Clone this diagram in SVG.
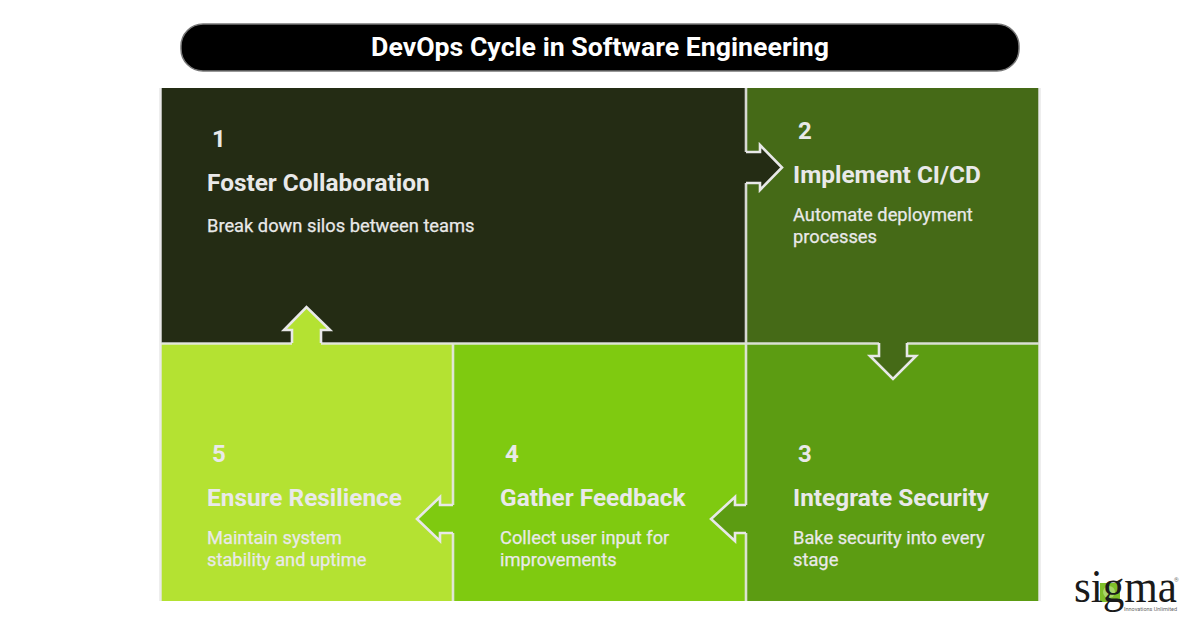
<svg xmlns="http://www.w3.org/2000/svg" width="1200" height="627" viewBox="0 0 1200 627">
<style>
text{font-family:Roboto,"Liberation Sans",sans-serif;fill:#e9e9e9}
.n{font-size:24px;font-weight:700}
.h{font-size:24.4px;font-weight:700}
.b{font-size:18.3px;font-weight:400;stroke:#e9e9e9;stroke-width:.25}
.d{stroke:#e8e8e8;stroke-width:2.6;fill:none}
.e{stroke:#e8e8e8;stroke-width:2.6;fill:none;stroke-linejoin:miter}
</style>
<rect width="1200" height="627" fill="#fff"/>
<g id="title">
<rect x="181" y="24" width="838" height="47" rx="22" fill="#000" stroke="#777" stroke-width="1.5"/>
<text x="600" y="56" text-anchor="middle" font-size="26.7" font-weight="700" style="fill:#fff">DevOps Cycle in Software Engineering</text>
</g>
<g id="node1">
<rect x="161" y="88" width="585" height="255" fill="#242c14"/>
<text class="n" x="212" y="147">1</text>
<text class="h" x="207" y="191">Foster Collaboration</text>
<text class="b" x="207" y="232">Break down silos between teams</text>
</g>
<g id="node2">
<rect x="746" y="88" width="293" height="255" fill="#456a17"/>
<text class="n" x="798" y="139">2</text>
<text class="h" x="793" y="183">Implement CI/CD</text>
<text class="b" x="793" y="221">Automate deployment</text>
<text class="b" x="793" y="243">processes</text>
</g>
<g id="node3">
<rect x="746" y="343" width="293" height="258" fill="#5c9c12"/>
<text class="n" x="798" y="462">3</text>
<text class="h" x="793" y="506">Integrate Security</text>
<text class="b" x="793" y="544">Bake security into every</text>
<text class="b" x="793" y="566">stage</text>
</g>
<g id="node4">
<rect x="453" y="343" width="293" height="258" fill="#7fca10"/>
<text class="n" x="505" y="462">4</text>
<text class="h" x="500" y="506">Gather Feedback</text>
<text class="b" x="500" y="544">Collect user input for</text>
<text class="b" x="500" y="566">improvements</text>
</g>
<g id="node5">
<rect x="161" y="343" width="292" height="258" fill="#b4e232"/>
<text class="n" x="212" y="462">5</text>
<text class="h" x="207" y="506">Ensure Resilience</text>
<text class="b" x="207" y="544">Maintain system</text>
<text class="b" x="207" y="566">stability and uptime</text>
</g>
<g id="connectors">
<path class="d" d="M161 343.500H292M321 343.500H879M907 343.500H1039M746 88V152M746 183V505M746 533V601M453 343V505M453 533V601M160.500 88V601M1039.500 88V601" stroke-opacity=".9"/>
<polygon points="744,152 760,152 760,145 782,167.500 760,190 760,183 744,183" fill="#242c14"/>
<polyline class="e" points="746,152 760,152 760,145 782,167.500 760,190 760,183 746,183"/>
<polygon points="879,340 907,340 907,356 916,356 893,379 870,356 879,356" fill="#456a17"/>
<polyline class="e" points="879,343 879,356 870,356 893,379 916,356 907,356 907,343"/>
<polygon points="748,505 735,505 735,497 711,519 735,541 735,533 748,533" fill="#5c9c12"/>
<polyline class="e" points="746,505 735,505 735,497 711,519 735,541 735,533 746,533"/>
<polygon points="455,505 440,505 440,497 417,519 440,541 440,533 455,533" fill="#7fca10"/>
<polyline class="e" points="453,505 440,505 440,497 417,519 440,541 440,533 453,533"/>
<polygon points="292,346 292,330 284,330 306.500,307 330,330 321,330 321,346" fill="#b4e232"/>
<polyline class="e" points="292,343 292,330 284,330 306.500,307 330,330 321,330 321,343"/>
</g>
<g id="logo">
<rect x="1100" y="583" width="20" height="19" fill="#7fbf2a"/>
<circle cx="1109" cy="592" r="6" fill="#a9d66a"/>
<text x="1074" y="602" font-size="46" style="font-family:'Liberation Serif',serif;fill:#1a1a1a" textLength="103" lengthAdjust="spacingAndGlyphs">sigma</text>
<text x="1124" y="611" font-size="5.500" style="fill:#666" textLength="53" lengthAdjust="spacingAndGlyphs">Innovations Unlimited</text>
<text x="1174" y="582" font-size="6" style="fill:#777">®</text>
</g>
</svg>
